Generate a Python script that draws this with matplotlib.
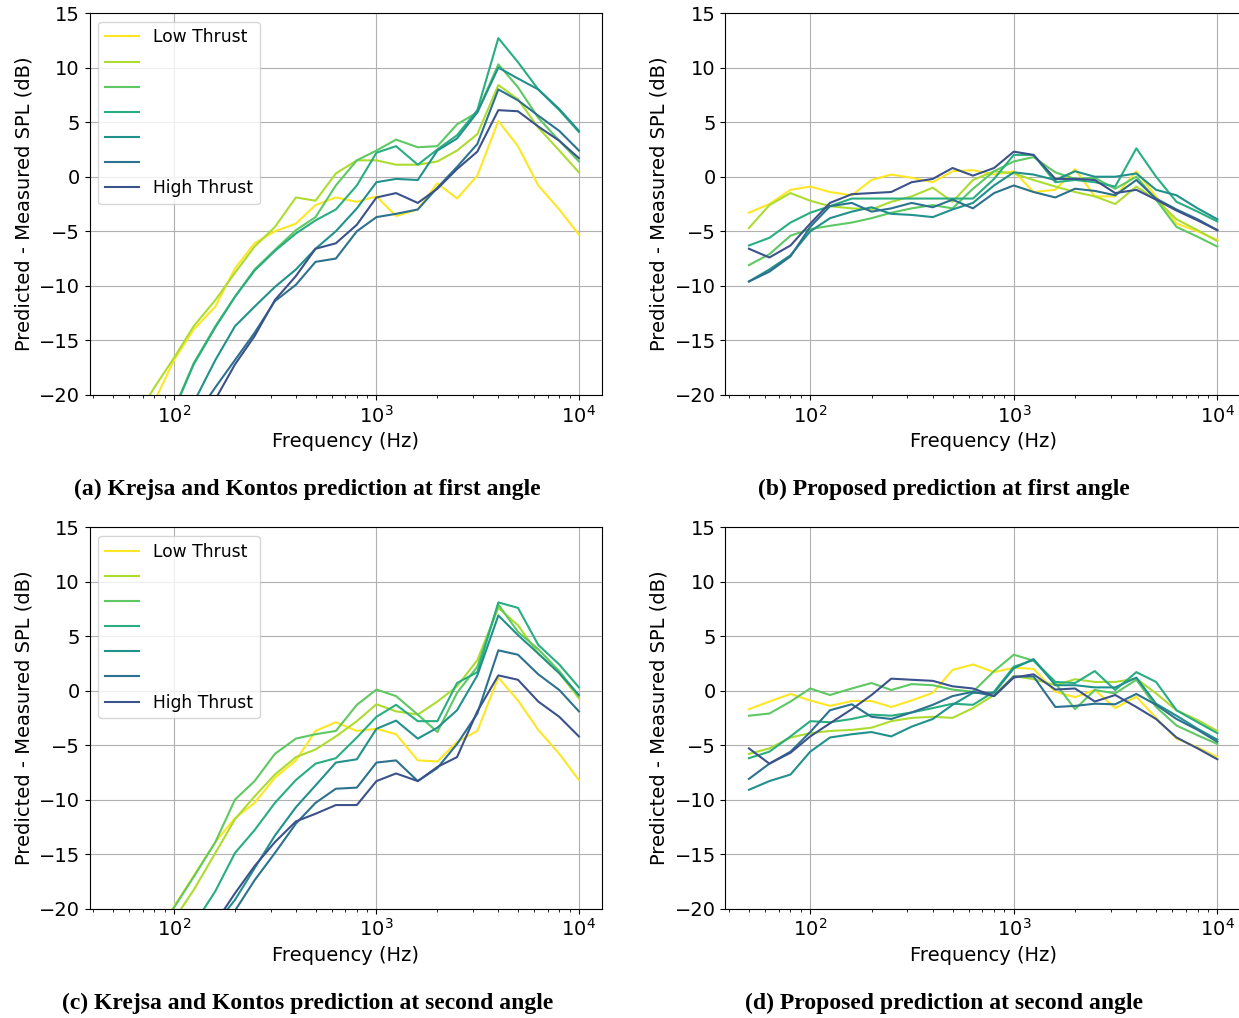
import numpy as np
import matplotlib
matplotlib.use("Agg")
import matplotlib.pyplot as plt

# 1/3-octave band centre frequencies (Hz)
freqs = [50, 63, 80, 100, 125, 160, 200, 250, 315, 400, 500, 630, 800,
         1000, 1250, 1600, 2000, 2500, 3150, 4000, 5000, 6300, 8000, 10000]

# (a) Krejsa and Kontos, first angle (low thrust -> high thrust)
a_1 = [-27.0, -23.5, -20.6, -16.8, -14.0, -11.9, -8.4, -6.1, -5.0, -4.3, -2.6, -1.9, -2.3, -1.8, -3.6, -3.0, -0.6, -2.0, 0.1, 5.1, 2.8, -0.8, -3.0, -5.3]
a_2 = [-26.0, -22.5, -19.3, -16.6, -13.7, -11.3, -8.8, -6.4, -4.6, -1.9, -2.2, 0.3, 1.5, 1.5, 1.1, 1.1, 1.4, 2.4, 3.9, 8.4, 7.1, 4.5, 2.4, 0.4]
a_3 = [-30.0, -27.0, -24.0, -21.3, -17.1, -13.7, -11.0, -8.5, -6.7, -4.9, -3.7, -0.8, 1.5, 2.4, 3.4, 2.7, 2.8, 4.8, 5.9, 10.3, 8.2, 5.4, 3.3, 1.4]
a_4 = [-30.5, -27.5, -24.5, -21.4, -17.2, -13.8, -11.0, -8.6, -6.8, -5.2, -4.0, -3.0, -0.8, 2.2, 2.8, 1.1, 2.5, 3.8, 6.1, 12.7, 10.5, 8.0, 6.1, 4.1]
a_5 = [-32.0, -29.0, -26.0, -23.5, -20.7, -16.8, -13.7, -11.9, -10.1, -8.5, -6.6, -5.0, -2.9, -0.5, -0.2, -0.3, 2.4, 3.5, 5.9, 10.0, 9.0, 8.0, 6.2, 4.2]
a_6 = [-34.0, -31.0, -28.0, -25.0, -22.2, -19.3, -16.8, -14.3, -11.4, -9.9, -7.8, -7.5, -5.0, -3.7, -3.4, -3.0, -1.0, 0.9, 3.0, 8.0, 7.0, 5.6, 4.2, 2.4]
a_7 = [-35.0, -32.0, -29.0, -26.0, -23.2, -20.4, -17.2, -14.6, -11.3, -9.1, -6.6, -6.1, -4.4, -1.9, -1.5, -2.4, -1.1, 0.7, 2.3, 6.1, 6.0, 4.6, 3.3, 1.7]

# (b) proposed, first angle
b_1 = [-3.3, -2.5, -1.2, -0.9, -1.4, -1.7, -0.3, 0.2, -0.1, -0.5, 0.5, 0.6, 0.2, 0.5, -1.4, -1.2, 0.7, -1.8, -1.8, 0.5, -1.8, -4.3, -5.0, -5.8]
b_2 = [-4.7, -2.6, -1.5, -2.2, -2.7, -2.9, -3.0, -2.3, -1.8, -1.0, -2.3, -0.3, 0.5, 0.3, -0.3, -0.9, -1.4, -1.8, -2.5, -0.9, -2.1, -3.9, -4.9, -5.9]
b_3 = [-8.1, -7.1, -5.4, -4.8, -4.5, -4.2, -3.8, -3.3, -2.9, -2.6, -2.9, -1.1, 0.5, 1.4, 1.8, 0.4, -0.2, -0.1, -1.1, 0.0, -2.1, -4.6, -5.5, -6.4]
b_4 = [-6.3, -5.6, -4.2, -3.3, -2.7, -2.0, -2.0, -2.0, -2.0, -2.0, -2.0, -2.0, -0.2, 2.0, 2.0, -0.5, -0.3, -0.5, -0.9, 2.6, 0.0, -2.3, -3.2, -4.1]
b_5 = [-9.6, -8.5, -7.2, -5.0, -3.8, -3.2, -2.8, -3.4, -3.5, -3.7, -3.0, -2.4, -0.8, 0.4, 0.2, -0.3, 0.5, 0.0, 0.0, 0.3, -1.2, -1.7, -2.9, -3.9]
b_6 = [-9.6, -8.7, -7.3, -4.6, -2.7, -2.4, -3.2, -2.9, -2.4, -2.8, -2.1, -2.9, -1.5, -0.8, -1.4, -1.9, -1.1, -1.3, -1.7, -0.3, -2.0, -3.0, -3.9, -4.9]
b_7 = [-6.6, -7.4, -6.3, -4.3, -2.4, -1.6, -1.5, -1.4, -0.5, -0.2, 0.8, 0.1, 0.8, 2.3, 2.0, -0.2, -0.2, -0.3, -1.5, -1.2, -2.1, -3.1, -4.0, -4.9]

# (c) Krejsa and Kontos, second angle
c_1 = [-30.0, -26.5, -23.0, -19.8, -17.0, -13.9, -11.7, -10.3, -8.0, -6.4, -3.7, -2.9, -3.7, -3.5, -4.0, -6.4, -6.5, -4.7, -3.7, 1.2, -0.9, -3.6, -5.8, -8.2]
c_2 = [-31.0, -27.5, -24.0, -21.0, -18.3, -14.9, -11.8, -9.7, -7.7, -6.1, -5.4, -4.2, -2.8, -1.25, -1.9, -2.2, -1.0, 0.4, 2.8, 7.6, 6.0, 3.4, 1.6, -0.7]
c_3 = [-30.0, -26.5, -23.0, -19.9, -17.1, -13.9, -10.0, -8.3, -5.8, -4.4, -4.0, -3.7, -1.3, 0.1, -0.5, -2.2, -3.8, -0.2, 2.2, 7.9, 5.4, 3.8, 1.8, -0.5]
c_4 = [-32.0, -28.5, -25.0, -23.0, -21.5, -18.4, -14.9, -12.8, -10.3, -8.2, -6.7, -6.2, -4.3, -2.4, -1.3, -2.8, -2.8, 0.7, 1.7, 8.1, 7.6, 4.2, 2.4, 0.3]
c_5 = [-34.0, -31.0, -28.0, -26.0, -24.0, -21.5, -19.2, -16.3, -13.3, -10.7, -8.7, -6.6, -6.3, -3.5, -2.75, -4.4, -3.4, -1.8, 1.4, 6.9, 5.1, 3.4, 1.6, -0.4]
c_6 = [-35.0, -32.0, -29.0, -27.0, -25.0, -23.0, -20.2, -17.4, -14.9, -12.2, -10.3, -9.0, -8.9, -6.6, -6.4, -8.3, -7.1, -4.9, -2.1, 3.7, 3.3, 1.5, 0.06, -1.9]
c_7 = [-35.0, -32.0, -29.0, -27.0, -25.0, -21.3, -18.6, -16.1, -13.9, -12.0, -11.3, -10.5, -10.5, -8.3, -7.6, -8.3, -7.0, -6.1, -1.9, 1.4, 1.0, -1.0, -2.4, -4.2]

# (d) proposed, second angle
d_1 = [-1.7, -1.0, -0.3, -0.9, -1.4, -0.95, -0.95, -1.5, -0.9, -0.2, 1.9, 2.4, 1.7, 2.1, 2.0, -0.1, -0.6, 0.06, -1.6, -0.55, -2.5, -4.4, -5.2, -6.1]
d_2 = [-5.8, -5.3, -4.3, -3.9, -3.7, -3.6, -3.4, -2.8, -2.5, -2.4, -2.5, -1.6, -0.4, 1.35, 1.05, 0.5, 1.05, 0.8, 0.8, 1.1, -0.25, -1.8, -2.7, -3.7]
d_3 = [-2.3, -2.1, -1.0, 0.2, -0.4, 0.2, 0.7, 0.06, 0.6, 0.5, 0.1, -0.1, 1.8, 3.3, 2.75, 0.7, -1.7, 0.06, -0.25, 1.0, -1.5, -3.2, -4.1, -4.9]
d_4 = [-6.2, -5.6, -4.2, -2.8, -2.9, -2.6, -2.2, -2.3, -2.0, -1.6, -1.2, -1.3, -0.1, 2.2, 2.8, 0.8, 0.7, 1.8, 0.06, 1.7, 0.8, -1.8, -2.9, -3.9]
d_5 = [-9.1, -8.3, -7.7, -5.6, -4.3, -4.0, -3.8, -4.2, -3.3, -2.6, -1.3, -0.2, -0.2, 2.05, 2.9, 0.5, 0.5, 0.3, 0.3, 1.2, -1.2, -2.3, -3.5, -4.5]
d_6 = [-8.1, -6.7, -5.6, -3.8, -1.8, -1.25, -2.4, -2.6, -2.0, -1.3, -0.5, -0.1, -0.5, 1.3, 1.3, -1.5, -1.4, -1.2, -1.25, -0.3, -1.3, -2.6, -3.6, -4.7]
d_7 = [-5.3, -6.7, -5.7, -4.2, -3.0, -1.7, -0.4, 1.1, 1.0, 0.9, 0.4, 0.2, -0.5, 1.2, 1.5, 0.1, 0.2, -1.0, -0.4, -1.5, -2.6, -4.3, -5.3, -6.3]

legend_labels = ["Low Thrust", "", "", "", "", "", "High Thrust"]
captions = ["(a) Krejsa and Kontos prediction at first angle",
            "(b) Proposed prediction at first angle",
            "(c) Krejsa and Kontos prediction at second angle",
            "(d) Proposed prediction at second angle"]

panels = [[a_1, a_2, a_3, a_4, a_5, a_6, a_7],
          [b_1, b_2, b_3, b_4, b_5, b_6, b_7],
          [c_1, c_2, c_3, c_4, c_5, c_6, c_7],
          [d_1, d_2, d_3, d_4, d_5, d_6, d_7]]

colors = plt.cm.viridis(np.linspace(1.0, 0.25, 7))

plt.rcParams['font.size'] = 14

fig = plt.figure(figsize=(12.39, 10.18), dpi=100)

# axes boxes in figure fractions: [left, bottom, width, height]
# right-hand panels run past the figure edge (the original was cropped there)
boxes = [[0.0724, 0.6120, 0.4137, 0.3752],
         [0.5855, 0.6120, 0.4160, 0.3752],
         [0.0724, 0.1075, 0.4137, 0.3746],
         [0.5855, 0.1075, 0.4160, 0.3746]]
caption_pos = [(307 / 1239, 1 - 489 / 1018), (944 / 1239, 1 - 489 / 1018),
               (308 / 1239, 1 - 1003 / 1018), (944 / 1239, 1 - 1003 / 1018)]

for i in range(4):
    ax = fig.add_axes(boxes[i])
    lines = []
    for j, series in enumerate(panels[i]):
        ln, = ax.plot(freqs, series, color=colors[j], linewidth=1.5)
        lines.append(ln)
    ax.set_xscale('log')
    ax.set_xlim(50 / 10 ** 0.1155, 10000 * 10 ** 0.1155)
    ax.set_ylim(-20, 15)
    ax.set_yticks(np.arange(-20, 16, 5))
    ax.grid(True)
    ax.set_xlabel('Frequency (Hz)')
    ax.set_ylabel('Predicted - Measured SPL (dB)')
    if i in (0, 2):
        ax.legend(lines, legend_labels, loc='upper left', fontsize=12.3,
                  labelspacing=0.42)
    fig.text(caption_pos[i][0], caption_pos[i][1], captions[i],
             ha='center', va='center', fontsize=17, fontweight='bold',
             family='Liberation Serif')

plt.savefig('out.png', dpi=100)
plt.close()
